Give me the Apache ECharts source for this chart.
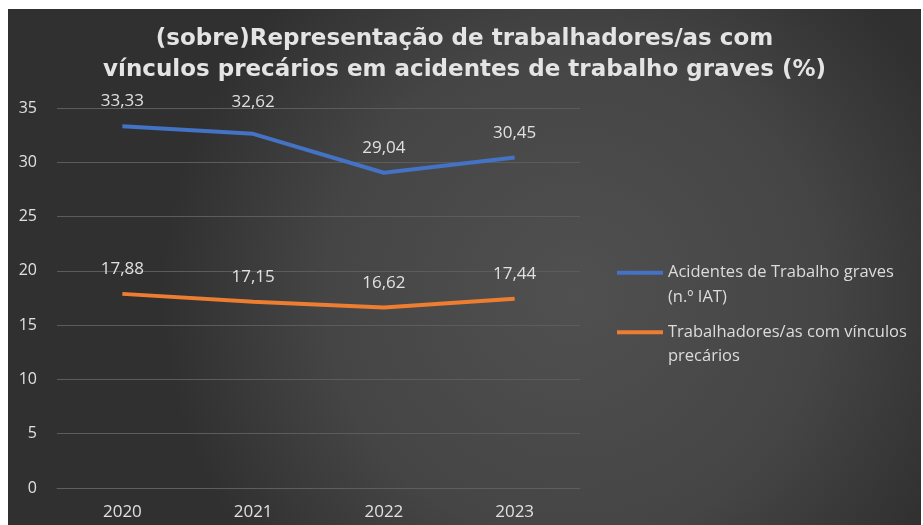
<!DOCTYPE html>
<html>
<head>
<meta charset="utf-8">
<script src="https://cdn.jsdelivr.net/npm/echarts@6/dist/echarts.min.js"></script>
<style>
html,body{margin:0;padding:0;background:#ffffff;width:923px;height:525px;overflow:hidden;}
#chart{position:absolute;left:8px;top:9px;width:913px;height:516px;}
</style>
</head>
<body>
<div id="chart"></div>
<script>
const titleText = '(sobre)Representação de trabalhadores/as com\nvínculos precários em acidentes de trabalho graves (%)';
const categories = ['2020', '2021', '2022', '2023'];
const seriesNames = ['Acidentes de Trabalho graves\n(n.º IAT)', 'Trabalhadores/as com vínculos\nprecários'];
const acidentesValues = [33.33, 32.62, 29.04, 30.45];
const vinculosValues = [17.88, 17.15, 16.62, 17.44];
const yTicks = { min: 0, max: 35, interval: 5 };

const chart = echarts.init(document.getElementById('chart'), null, { renderer: 'canvas' });
const fmt = p => p.value.toFixed(2).replace('.', ',');
const labelStyle = {
  show: true, position: 'top', distance: 16, formatter: fmt,
  color: '#e0e0e0', fontSize: 17, fontFamily: 'Open Sans'
};
// the 2021 label of the first series sits a little higher in the original
const acidentesData = acidentesValues.map((v, i) =>
  i === 1 ? { value: v, label: { distance: 23 } } : v);
chart.setOption({
  backgroundColor: {
    type: 'radial', x: 0.62, y: 0.55, r: 0.8,
    colorStops: [
      { offset: 0, color: '#505050' },
      { offset: 0.6, color: '#454545' },
      { offset: 1, color: '#303030' }
    ]
  },
  title: {
    text: titleText,
    left: 'center',
    top: 10,
    textStyle: {
      color: '#e4e4e4', fontSize: 23, fontWeight: 'bold',
      fontFamily: 'DejaVu Sans', lineHeight: 31
    }
  },
  legend: {
    orient: 'vertical',
    left: 604,
    top: 222,
    itemWidth: 46,
    itemHeight: 4,
    itemGap: -14,
    icon: 'rect',
    data: seriesNames,
    formatter: n => '\n' + n,
    textStyle: {
      color: '#dcdcdc', fontSize: 16.5, fontFamily: 'Open Sans',
      lineHeight: 24.5
    }
  },
  grid: { left: 49, right: 341, top: 99, bottom: 37 },
  xAxis: {
    type: 'category',
    data: categories,
    boundaryGap: true,
    axisLine: { show: true, lineStyle: { color: '#5e5e5e', width: 1 } },
    axisTick: { show: false },
    axisLabel: { color: '#e0e0e0', fontSize: 17, fontFamily: 'Open Sans', margin: 16 }
  },
  yAxis: {
    type: 'value',
    min: yTicks.min, max: yTicks.max, interval: yTicks.interval,
    axisLine: { show: false },
    axisTick: { show: false },
    splitLine: { lineStyle: { color: '#5c5c5c', width: 1 } },
    axisLabel: { color: '#e0e0e0', fontSize: 16, fontFamily: 'Open Sans', margin: 20 }
  },
  series: [
    {
      name: seriesNames[0], type: 'line', data: acidentesData,
      symbol: 'circle', symbolSize: 0.1, showSymbol: true,
      lineStyle: { color: '#4472C4', width: 4 },
      itemStyle: { color: '#4472C4' },
      label: labelStyle
    },
    {
      name: seriesNames[1], type: 'line', data: vinculosValues,
      symbol: 'circle', symbolSize: 0.1, showSymbol: true,
      lineStyle: { color: '#ED7D31', width: 4 },
      itemStyle: { color: '#ED7D31' },
      label: labelStyle
    }
  ]
});
</script>
</body>
</html>
